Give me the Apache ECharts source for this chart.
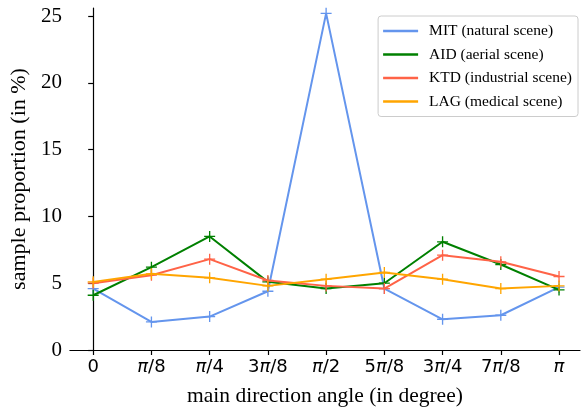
<!DOCTYPE html>
<html><head><meta charset="utf-8">
<script src="https://cdn.jsdelivr.net/npm/echarts@6/dist/echarts.min.js"></script>
<style>html,body{margin:0;padding:0;background:#fff}#c{width:581px;height:412px}</style>
</head><body><div id="c"></div>
<script>
const tickLabels = ['0','π/8','π/4','3π/8','π/2','5π/8','3π/4','7π/8','π'];
const yTicks = [0,5,10,15,20,25];
const seriesNames = ['MIT (natural scene)','AID (aerial scene)','KTD (industrial scene)','LAG (medical scene)'];
const mit = [4.6, 2.1, 2.5, 4.4, 25.2, 4.6, 2.3, 2.6, 4.7];
const aid = [4.1, 6.2, 8.5, 5.1, 4.6, 5.0, 8.1, 6.4, 4.5];
const ktd = [5.0, 5.6, 6.8, 5.2, 4.8, 4.6, 7.1, 6.6, 5.5];
const lag = [5.1, 5.7, 5.4, 4.8, 5.3, 5.8, 5.3, 4.6, 4.8];
const colors = ['#6495ED','#008000','#FF6347','#FFA500'];
const values = [mit, aid, ktd, lag];
const plus = 'path://M4.4,0h1.2v4.4h4.4v1.2h-4.4v4.4h-1.2v-4.4h-4.4v-1.2h4.4z';
const chart = echarts.init(document.getElementById('c'), null, {renderer:'canvas'});
const tickFont = {fontFamily:'DejaVu Sans', fontSize:18, color:'#000'};
chart.setOption({
  animation:false,
  grid:{left:67.5, right:1, top:8, bottom:60},
  xAxis:{type:'value', min:-0.4, max:8.36,
    axisLine:{lineStyle:{color:'#000', width:1.2}},
    splitLine:{show:false},
    axisTick:{customValues:tickLabels.map((_,i)=>i), length:5, lineStyle:{color:'#000', width:1.2}},
    axisLabel:{customValues:tickLabels.map((_,i)=>i),
      formatter:v=>tickLabels[Math.round(v)].replace('π','{i|π}'),
      color:'#000', fontFamily:'DejaVu Sans', fontSize:18, margin:8,
      rich:{i:Object.assign({fontStyle:'italic'}, tickFont)}},
    name:'main direction angle (in degree)', nameLocation:'middle', nameGap:35,
    nameTextStyle:{fontFamily:'Liberation Serif', fontSize:21.5, color:'#000'}
  },
  yAxis:{type:'value', min:0, max:25.6,
    axisLine:{show:true, lineStyle:{color:'#000', width:1.2}},
    splitLine:{show:false},
    axisTick:{show:true, customValues:yTicks, length:5, lineStyle:{color:'#000', width:1.2}},
    axisLabel:{customValues:yTicks, color:'#000', fontFamily:'Liberation Serif', fontSize:21, margin:8},
    name:'sample proportion (in %)', nameLocation:'middle', nameGap:38, nameRotate:90,
    nameTextStyle:{fontFamily:'Liberation Serif', fontSize:22, color:'#000'}
  },
  legend:{orient:'vertical', right:3, top:16, padding:[7,6,7,5], itemGap:7.5,
    backgroundColor:'rgba(255,255,255,0.8)', borderColor:'#ccc', borderWidth:1, borderRadius:3,
    itemWidth:35, itemHeight:2.5,
    textStyle:{fontFamily:'Liberation Serif', fontSize:15.5, color:'#000', padding:[0,0,0,6]},
    data:seriesNames.map(n=>({name:n, icon:'rect'}))
  },
  series:seriesNames.map((n,k)=>({
    name:n, type:'line', data:values[k].map((v,i)=>[i,v]),
    symbol:plus, symbolSize:11, showSymbol:true,
    lineStyle:{color:colors[k], width:2}, itemStyle:{color:colors[k]},
    z:2+k
  }))
});
</script></body></html>
